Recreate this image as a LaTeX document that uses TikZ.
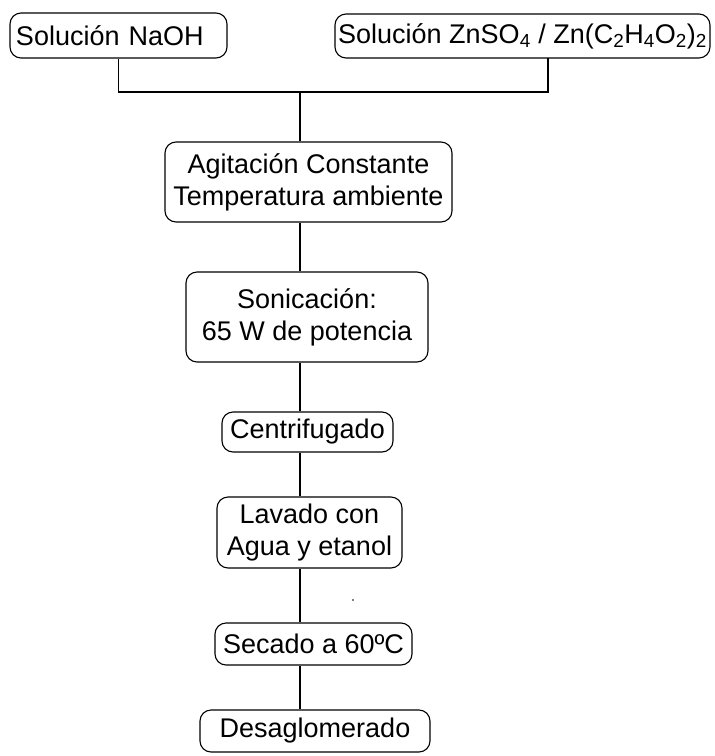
\documentclass[tikz,border=0pt]{standalone}
\usepackage{fontspec}
\setmainfont{Liberation Sans}

\begin{document}
\begin{tikzpicture}[
        x=1pt, y=-1pt,
        line width=1.1pt,
        stage/.style={draw, rounded corners=11pt, inner sep=0pt, align=center,
            font=\fontsize{27}{32}\selectfont},
    ]
        \useasboundingbox (0,0) rectangle (715,756);

        % Define nodes
        \node[stage, minimum width=217pt, minimum height=45pt, text width=205pt, align=left] (naoh) at (118.5,35.5) {Solución NaOH};
        \node[stage, minimum width=375pt, minimum height=44pt] (znso) at (522.5,36) {Solución ZnSO\textsubscript{4} / Zn(C\textsubscript{2}H\textsubscript{4}O\textsubscript{2})\textsubscript{2}};
        \node[stage, minimum width=287pt, minimum height=80pt] (agit) at (308.5,182) {Agitación Constante\\Temperatura ambiente};
        \node[stage, minimum width=242pt, minimum height=90pt] (sonic) at (307,317) {Sonicación:\\65 W de potencia};
        \node[stage, minimum width=171pt, minimum height=40pt] (centri) at (307.5,432) {Centrifugado};
        \node[stage, minimum width=185pt, minimum height=71pt] (lavado) at (309.5,532.5) {Lavado con\\Agua y etanol};
        \node[stage, minimum width=197pt, minimum height=42pt] (secado) at (313.5,644) {Secado a 60ºC};
        \node[stage, minimum width=230pt, minimum height=42pt] (desag) at (315,731) {Desaglomerado};

        % Join of the two solutions
        \coordinate (join) at (300,92);
        \coordinate (zntap) at (548,58);
        \draw (naoh.south) |- (join) -| (zntap);
        \draw (join) -- (join |- agit.north);

        % Lines between the steps
        \foreach \a/\b in {agit/sonic, sonic/centri, centri/lavado, lavado/secado, secado/desag}
            \draw (\a.south -| join) -- (\b.north -| join);

        \fill (353,600) circle (0.8pt);
    \end{tikzpicture}
\end{document}
